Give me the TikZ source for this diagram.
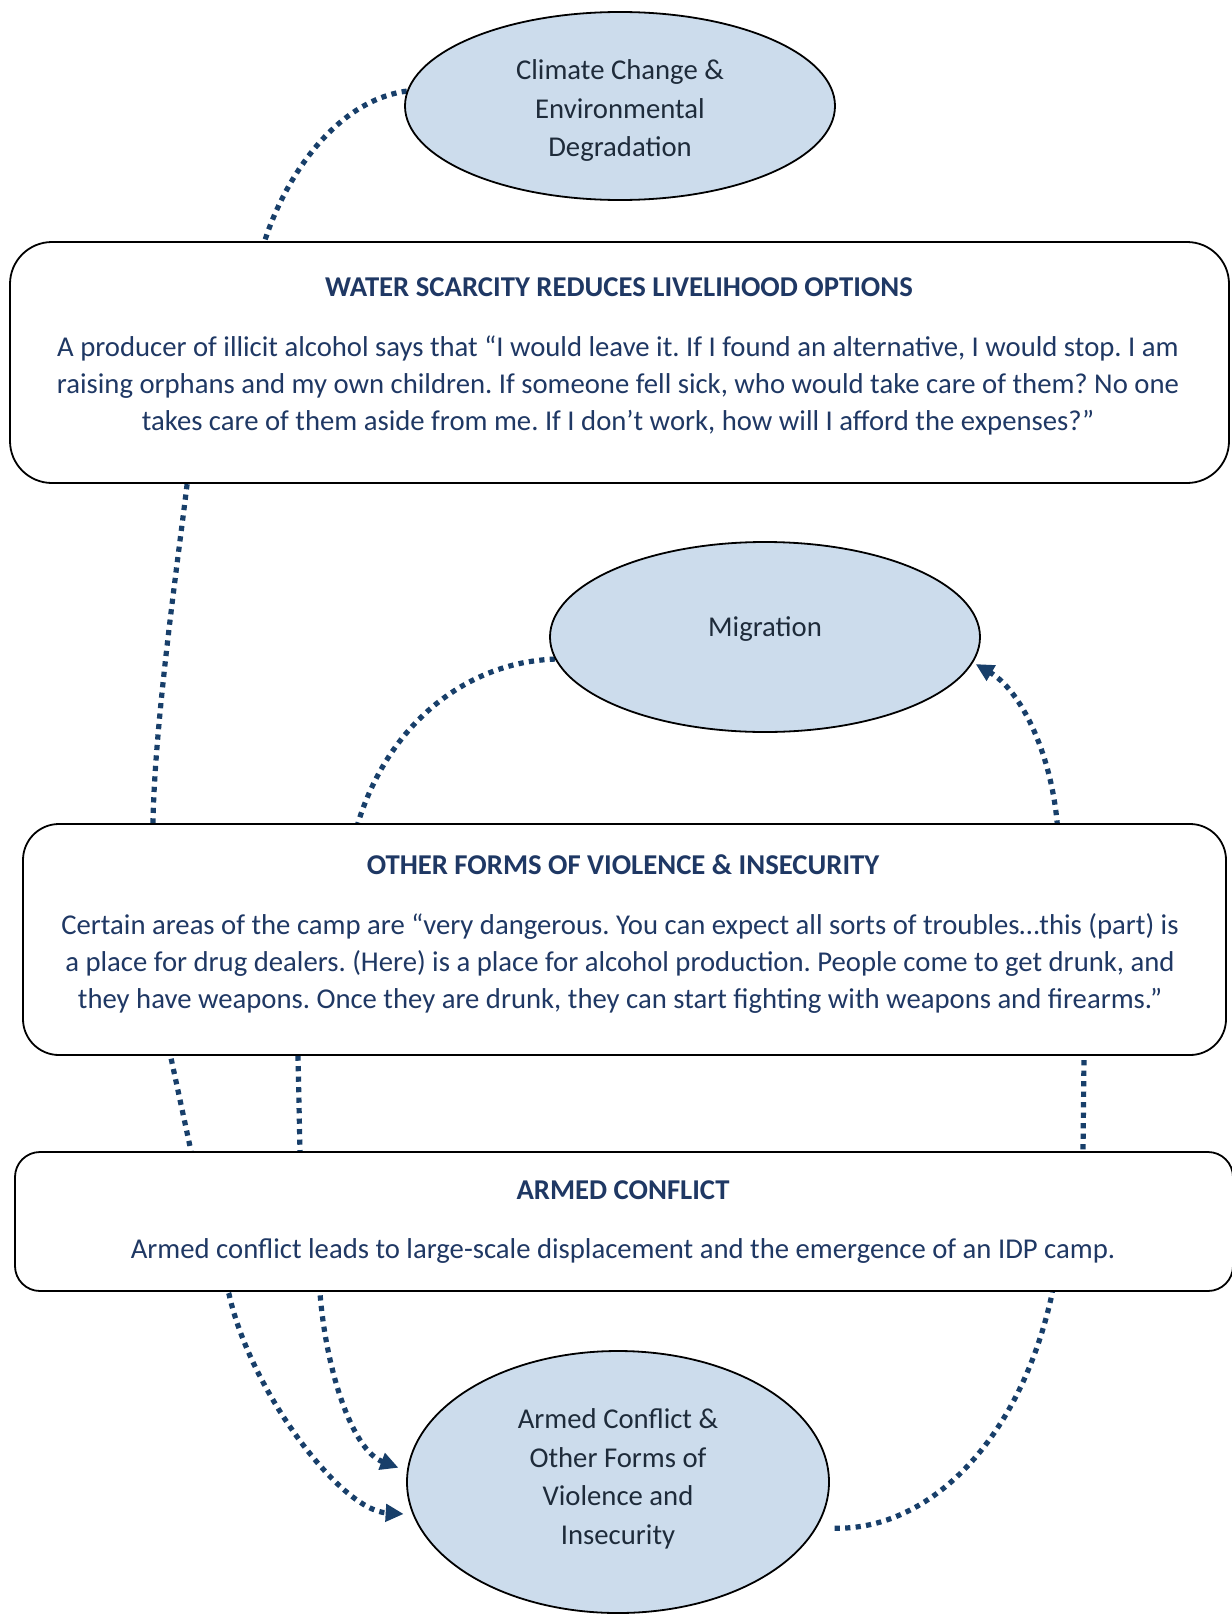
\documentclass[tikz,border=0pt]{standalone}
\usepackage{fontspec}
\setmainfont{Carlito}
\frenchspacing
\usetikzlibrary{shapes.geometric,arrows.meta,backgrounds}
\definecolor{navy}{HTML}{1F3864}
\definecolor{dotc}{HTML}{183F6A}
\definecolor{ellfill}{HTML}{CCDCEC}
\definecolor{elltext}{HTML}{1E2B3A}
\begin{document}
\frenchspacing
\begin{tikzpicture}[x=1pt,y=-1pt,
  ell/.style={ellipse, draw=black, line width=1.8pt, fill=ellfill, inner sep=0pt},
  boxnode/.style={draw=black, line width=1.8pt, fill=white, rectangle, inner sep=0pt},
  hd/.style={font=\bfseries\fontsize{28.7}{37}\selectfont, text=navy},
  bodytxt/.style={font=\fontsize{28.7}{37}\selectfont, text=navy, align=center},
  elltxt/.style={font=\fontsize{28.7}{38.5}\selectfont, text=elltext, align=center},
  conn/.style={draw=dotc, line width=5.2pt, dash pattern=on 5.2pt off 5.3pt},
  arrowend/.style={-{Triangle[length=18pt,width=17pt]}}
]
\useasboundingbox (0,0) rectangle (1231,1619);

% ellipses
\node[ell, minimum width=430pt, minimum height=188pt] (clim) at (620,106) {};
\node[elltxt] (climT) at (620,111) {Climate Change \&\\Environmental\\Degradation};
\node[ell, minimum width=430pt, minimum height=190pt] (mig) at (765,637) {};
\node[elltxt] (migT) at (765,629) {Migration};
\node[ell, minimum width=422pt, minimum height=262pt] (bot) at (618,1482) {};
\node[elltxt] (botT) at (618,1479) {Armed Conflict \&\\Other Forms of\\Violence and\\Insecurity};

% boxes
\node[boxnode, rounded corners=42pt, minimum width=1219pt, minimum height=241pt] (water) at (619.5,362.5) {};
\node[hd] (waterH) at (619,287) {WATER SCARCITY REDUCES LIVELIHOOD OPTIONS};
\node[bodytxt] (waterB) at (618,385) {A producer of illicit alcohol says that “I would leave it. If I found an alternative, I would stop. I am\\raising orphans and my own children. If someone fell sick, who would take care of them? No one\\takes care of them aside from me. If I don’t work, how will I afford the expenses?”};

\node[boxnode, rounded corners=36pt, minimum width=1203pt, minimum height=231pt] (viol) at (624.5,939.5) {};
\node[hd] (violH) at (623,865) {OTHER FORMS OF VIOLENCE \& INSECURITY};
\node[bodytxt] (violB) at (620,963) {Certain areas of the camp are “very dangerous. You can expect all sorts of troubles…this (part) is\\a place for drug dealers. (Here) is a place for alcohol production. People come to get drunk, and\\they have weapons. Once they are drunk, they can start fighting with weapons and firearms.”};

\node[boxnode, rounded corners=25pt, minimum width=1218pt, minimum height=139pt] (armed) at (624,1221.5) {};
\node[hd] (armedH) at (623,1190) {ARMED CONFLICT};
\node[bodytxt] (armedB) at (623,1251) {Armed conflict leads to large-scale displacement and the emergence of an IDP camp.};

% connectors behind boxes
\begin{scope}[on background layer]
\fill[white] (0,0) rectangle (1231,1619);
\draw[conn, arrowend, shorten >=9pt] (clim.176) .. controls (340,100) and (288,170) .. (265,240)
  .. controls (245,310) and (195,420) .. (187,485)
  .. controls (178,560) and (155,720) .. (153,821)
  .. controls (150,930) and (165,1020) .. (171,1058)
  -- (191,1151)
  .. controls (200,1200) and (215,1260) .. (229,1294)
  .. controls (250,1390) and (340,1510) .. (bot.189);
\draw[conn, arrowend, shorten >=9pt] (mig.186) .. controls (470,662) and (390,720) .. (358,823)
  .. controls (335,900) and (300,990) .. (298,1058)
  -- (300,1151)
  .. controls (302,1210) and (312,1260) .. (320,1293)
  .. controls (326,1370) and (352,1450) .. (bot.177);
\draw[conn, arrowend, shorten <=18pt, shorten >=3pt] (bot.-13) .. controls (930,1530) and (1020,1440) .. (1052,1294)
  .. controls (1060,1240) and (1083,1200) .. (1083,1151)
  -- (1084,1058)
  .. controls (1084,960) and (1062,880) .. (1057,821)
  .. controls (1050,750) and (1020,690) .. (mig.-7);
\end{scope}
\end{tikzpicture}
\end{document}
